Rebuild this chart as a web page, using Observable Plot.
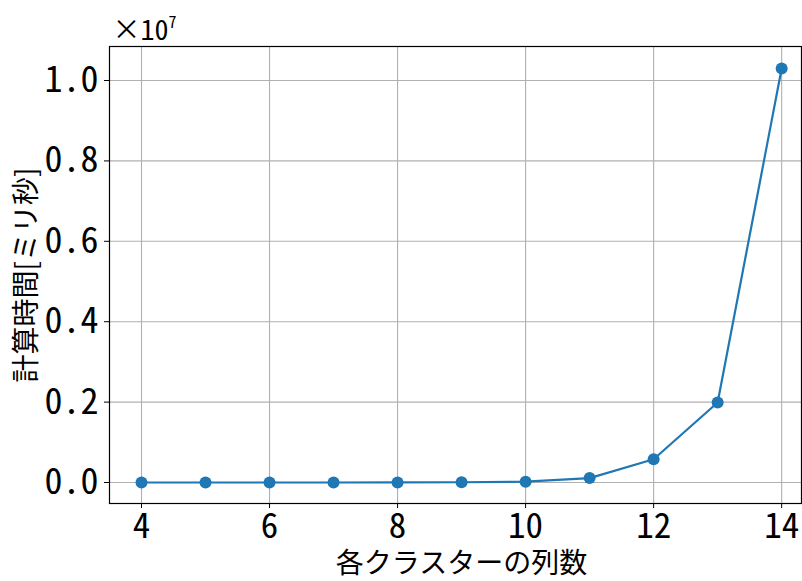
<!DOCTYPE html>
<html>
<head>
<meta charset="utf-8">
<script src="https://cdn.jsdelivr.net/npm/d3@7"></script>
<script src="https://cdn.jsdelivr.net/npm/@observablehq/plot@0.6"></script>
<style>
  html, body { margin: 0; padding: 0; background: #fff; }
  #chart svg { display: block; }
</style>
</head>
<body>
<div id="chart"></div>
<script>
const columns = [4, 5, 6, 7, 8, 9, 10, 11, 12, 13, 14];
const timesMs = [60, 150, 400, 1000, 2500, 7000, 20000, 110000, 580000, 1990000, 10300000];
const xTicks = [4, 6, 8, 10, 12, 14];
const yTicks = [0, 2e6, 4e6, 6e6, 8e6, 10e6];
const xLabel = "各クラスターの列数";
const yLabel = "計算時間[ミリ秒]";
const offsetBase = "×10";
const offsetExp = "7";

const data = columns.map((c, i) => ({c, t: timesMs[i]}));
const NUMFONT = "'Noto Sans Mono CJK JP', 'Noto Sans CJK JP', sans-serif";
const JPFONT = "'Noto Sans CJK JP', sans-serif";
const color = "#1f77b4";

const chart = Plot.plot({
  width: 802,
  height: 581,
  marginLeft: 109,
  marginRight: 1,
  marginTop: 46,
  marginBottom: 78,
  style: {fontFamily: JPFONT, background: "#fff", overflow: "visible"},
  x: {domain: [3.5, 14.31]},
  y: {domain: [-0.0522e7, 1.0846e7]},
  marks: [
    Plot.gridX(xTicks, {stroke: "#b0b0b0", strokeOpacity: 1, strokeWidth: 1.1}),
    Plot.gridY(yTicks, {stroke: "#b0b0b0", strokeOpacity: 1, strokeWidth: 1.1}),
    Plot.axisX(xTicks, {
      tickSize: 5, tickPadding: 5, fontSize: 35, fontFamily: NUMFONT,
      tickFormat: d => String(d), label: null
    }),
    Plot.axisY(yTicks, {
      tickSize: 5, tickPadding: 6, fontSize: 36, fontFamily: NUMFONT,
      tickFormat: d => (d / 1e7).toFixed(1), label: null
    }),
    Plot.frame({stroke: "#000", strokeWidth: 1.2}),
    Plot.line(data, {x: "c", y: "t", stroke: color, strokeWidth: 2.2}),
    Plot.dot(data, {x: "c", y: "t", r: 6, fill: color, stroke: "none"}),
    Plot.text([xLabel], {frameAnchor: "bottom", dx: 6, dy: 61, fontSize: 28, textAnchor: "middle", lineAnchor: "middle", fill: "#000"}),
    Plot.text([yLabel], {frameAnchor: "left", dx: -82, dy: 0, fontSize: 28, rotate: -90, textAnchor: "middle", lineAnchor: "middle", fill: "#000"}),
    Plot.text([offsetBase], {frameAnchor: "top-left", dx: 3, dy: -7, fontSize: 28, fontFamily: NUMFONT, textAnchor: "start", lineAnchor: "bottom", fill: "#000"}),
    Plot.text([offsetExp], {frameAnchor: "top-left", dx: 59, dy: -19, fontSize: 16, fontFamily: NUMFONT, textAnchor: "start", lineAnchor: "bottom", fill: "#000"})
  ]
});
document.getElementById("chart").append(chart);
</script>
</body>
</html>
